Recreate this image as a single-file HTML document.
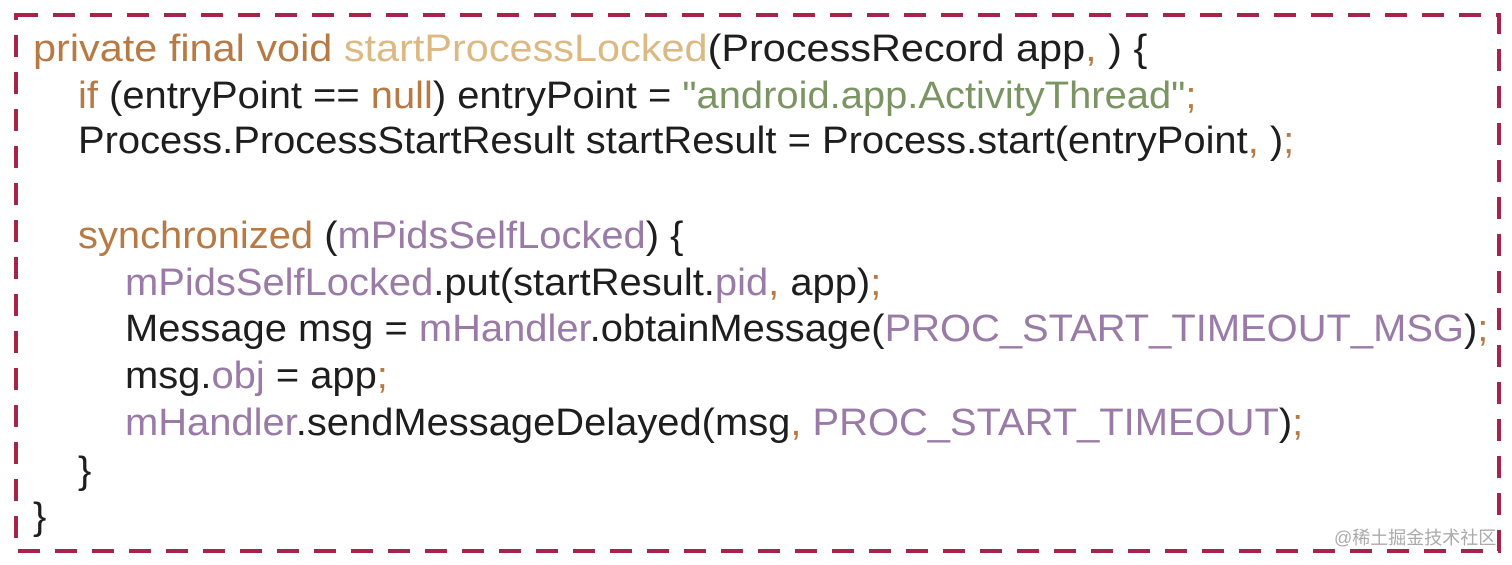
<!DOCTYPE html>
<html><head><meta charset="utf-8"><style>
body{margin:0;width:1512px;height:565px;background:#fff;position:relative;overflow:hidden;font-family:"Liberation Sans",sans-serif;}
svg{position:absolute;left:0;top:0}
.l{position:absolute;white-space:pre;font-size:38px;color:#1e1e1e;line-height:1;transform:scaleX(1.05);transform-origin:0 0;}
.k{color:#b87a45}.m{color:#dcb982}.s{color:#7a9462}.p{color:#9a7aa6}
.w{position:absolute;left:1334px;top:524px;font-size:18px;color:#aaa;font-family:"Liberation Sans","Noto Sans CJK SC",sans-serif}
</style></head><body>
<svg width="1512" height="565"><rect x="16" y="15" width="1483" height="536" fill="none" stroke="#a8234a" stroke-width="4" stroke-dasharray="22 15"/></svg>
<div class="l" style="left:33px;top:30px;transform:scaleX(1.09)"><span class="k">private final void </span><span class="m">startProcessLocked</span>(ProcessRecord app<span class="k">, </span>) {</div>
<div class="l" style="left:78px;top:77px"><span class="k">if </span>(entryPoint == <span class="k">null</span>) entryPoint = <span class="s">"android.app.ActivityThread"</span><span class="k">;</span></div>
<div class="l" style="left:78px;top:122px">Process.ProcessStartResult startResult = Process.start(entryPoint<span class="k">, </span>)<span class="k">;</span></div>
<div class="l" style="left:78px;top:217px"><span class="k">synchronized </span>(<span class="p">mPidsSelfLocked</span>) {</div>
<div class="l" style="left:125px;top:264px"><span class="p">mPidsSelfLocked</span>.put(startResult.<span class="p">pid</span><span class="k">, </span>app)<span class="k">;</span></div>
<div class="l" style="left:125px;top:310px">Message msg = <span class="p">mHandler</span>.obtainMessage(<span class="p">PROC_START_TIMEOUT_MSG</span>)<span class="k">;</span></div>
<div class="l" style="left:125px;top:357px">msg.<span class="p">obj</span> = app<span class="k">;</span></div>
<div class="l" style="left:125px;top:404px"><span class="p">mHandler</span>.sendMessageDelayed(msg<span class="k">, </span><span class="p">PROC_START_TIMEOUT</span>)<span class="k">;</span></div>
<div class="l" style="left:78px;top:452px">}</div>
<div class="l" style="left:33px;top:498px">}</div>
<div class="w">@稀土掘金技术社区</div>
</body></html>
